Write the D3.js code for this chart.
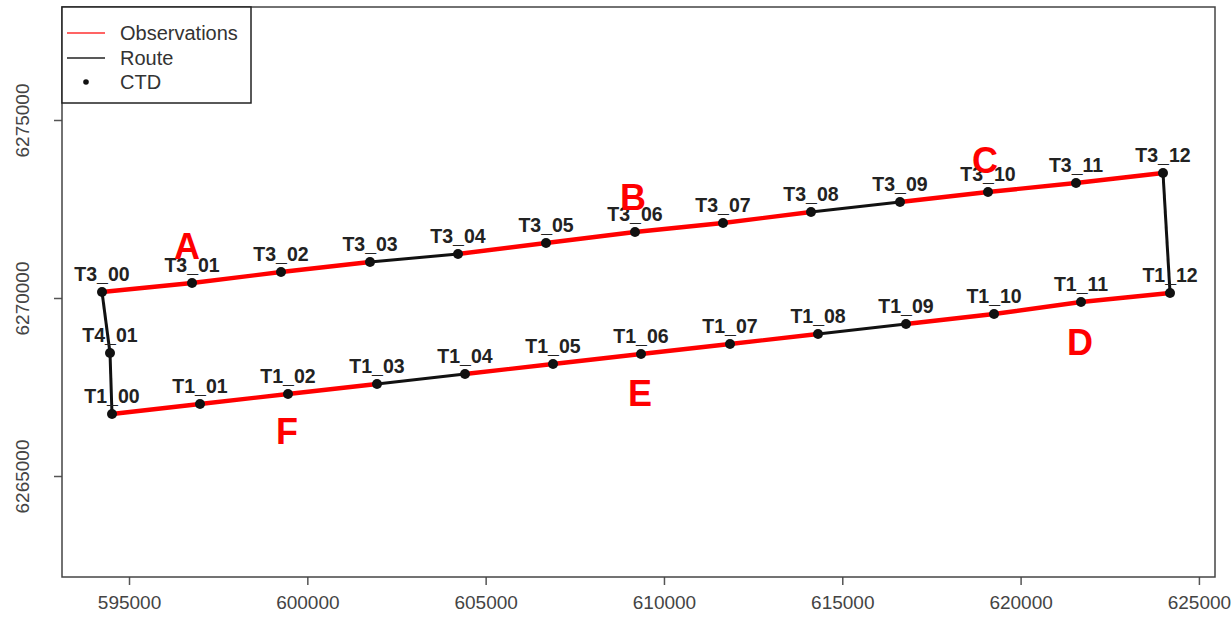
<!DOCTYPE html>
<html><head><meta charset="utf-8">
<script src="https://cdn.jsdelivr.net/npm/d3@7"></script>
<style>body{margin:0;background:#fff;}svg{display:block;}</style>
</head><body>
<svg id="chart" width="1232" height="628"></svg>
<script>
// ---- data (map coordinates, m) ----
const t3Names = ["T3_00","T3_01","T3_02","T3_03","T3_04","T3_05","T3_06","T3_07","T3_08","T3_09","T3_10","T3_11","T3_12"];
const t3X = [594243,596767,599262,601758,604225,606693,609188,611656,614123,616619,619086,621554,623993];
const t3Y = [6270169,6270421,6270730,6271011,6271236,6271545,6271854,6272107,6272416,6272697,6272978,6273230,6273511];
const t1Names = ["T1_00","T1_01","T1_02","T1_03","T1_04","T1_05","T1_06","T1_07","T1_08","T1_09","T1_10","T1_11","T1_12"];
const t1X = [594523,596991,599458,601954,604421,606889,609356,611852,614320,616787,619255,621694,624190];
const t1Y = [6266742,6267022,6267303,6267584,6267865,6268146,6268427,6268708,6268989,6269270,6269551,6269888,6270140];
const t4Names = ["T4_01"];
const t4X = [594467];
const t4Y = [6268455];
// segment i connects station i and i+1 : true = observations (red), false = route only
const t3Obs = [true,true,true,false,true,true,true,true,false,true,true,true];
const t1Obs = [true,true,true,false,true,true,true,true,false,true,true,true];
const sectionNames = ["A","B","C","D","E","F"];
const sectionX = [596626,609132,619002,621666,609328,599430];
const sectionY = [6271433,6272837,6273876,6268736,6267331,6266236];
const xTicks = [595000,600000,605000,610000,615000,620000,625000];
const yTicks = [6265000,6270000,6275000];
const xDomain = [593121,625451];
const yDomain = [6262163,6278174];
const legendLabels = ["Observations","Route","CTD"];

// ---- layout ----
const L = 62, R = 1215, T = 7, B = 577;
const svg = d3.select("#chart");
const x = d3.scaleLinear().domain(xDomain).range([L, R]);
const y = d3.scaleLinear().domain(yDomain).range([B, T]);
const font = "Liberation Sans, Arial, sans-serif";

// axes
const xAxis = d3.axisBottom(x).tickValues(xTicks).tickFormat(d3.format("d")).tickSize(8).tickPadding(11);
const gx = svg.append("g").attr("transform", `translate(0,${B})`).call(xAxis);
gx.select(".domain").remove();
gx.selectAll("line").attr("stroke","#555").attr("stroke-width",1.5);
gx.selectAll("text").attr("font-family",font).attr("font-size",19).attr("fill","#444");

const yAxis = d3.axisLeft(y).tickValues(yTicks).tickFormat(d3.format("d")).tickSize(8).tickPadding(0);
const gy = svg.append("g").attr("transform", `translate(${L},0)`).call(yAxis);
gy.select(".domain").remove();
gy.selectAll("line").attr("stroke","#555").attr("stroke-width",1.5);
gy.selectAll("text").attr("font-family",font).attr("font-size",19).attr("fill","#444")
  .attr("text-anchor","middle").attr("x",0).attr("dy","0.35em")
  .attr("transform","translate(-40,0) rotate(-90)");

// frame
svg.append("rect").attr("x",L).attr("y",T).attr("width",R-L).attr("height",B-T)
  .attr("fill","none").attr("stroke","#444").attr("stroke-width",1.5);

// build point lists
const t3 = t3Names.map((n,i)=>({name:n,x:t3X[i],y:t3Y[i]}));
const t1 = t1Names.map((n,i)=>({name:n,x:t1X[i],y:t1Y[i]}));
const t4 = t4Names.map((n,i)=>({name:n,x:t4X[i],y:t4Y[i]}));

const segs = [];
t3Obs.forEach((o,i)=>segs.push({a:t3[i],b:t3[i+1],obs:o}));
t1Obs.forEach((o,i)=>segs.push({a:t1[i],b:t1[i+1],obs:o}));
// transits (route)
segs.push({a:t3[12],b:t1[12],obs:false});
segs.push({a:t3[0],b:t4[0],obs:false});
segs.push({a:t4[0],b:t1[0],obs:false});

const line = d3.line().x(d=>x(d.x)).y(d=>y(d.y));
svg.append("g").selectAll("path").data(segs.filter(s=>!s.obs)).join("path")
  .attr("d",s=>line([s.a,s.b])).attr("stroke","#111").attr("stroke-width",3).attr("fill","none");
svg.append("g").selectAll("path").data(segs.filter(s=>s.obs)).join("path")
  .attr("d",s=>line([s.a,s.b])).attr("stroke","#ff0000").attr("stroke-width",4.4).attr("fill","none").attr("stroke-linecap","round");

const allPts = t3.concat(t1, t4);
svg.append("g").selectAll("circle").data(allPts).join("circle")
  .attr("cx",d=>x(d.x)).attr("cy",d=>y(d.y)).attr("r",5).attr("fill","#111");

svg.append("g").selectAll("text").data(allPts).join("text")
  .attr("x",d=>x(d.x)).attr("y",d=>y(d.y)-11)
  .attr("text-anchor","middle").attr("font-family",font).attr("font-weight","bold")
  .attr("font-size",19.5).attr("fill","#222").text(d=>d.name);

// section letters
svg.append("g").selectAll("text").data(sectionNames).join("text")
  .attr("x",(d,i)=>x(sectionX[i])).attr("y",(d,i)=>y(sectionY[i]))
  .attr("text-anchor","middle").attr("dominant-baseline","central")
  .attr("font-family",font).attr("font-weight","bold").attr("font-size",36)
  .attr("fill","#ff0000").text(d=>d);

// legend
const lg = svg.append("g");
lg.append("rect").attr("x",L).attr("y",T).attr("width",189).attr("height",96)
  .attr("fill","#fff").attr("stroke","#222").attr("stroke-width",1.5);
const ly = [33,58,82];
lg.append("line").attr("x1",67).attr("x2",105).attr("y1",ly[0]).attr("y2",ly[0]).attr("stroke","#ff3030").attr("stroke-width",1.5);
lg.append("line").attr("x1",67).attr("x2",105).attr("y1",ly[1]).attr("y2",ly[1]).attr("stroke","#222").attr("stroke-width",1.5);
lg.append("circle").attr("cx",86).attr("cy",ly[2]).attr("r",2.8).attr("fill","#111");
lg.selectAll("text.lt").data(legendLabels).join("text").attr("class","lt")
  .attr("x",120).attr("y",(d,i)=>ly[i]).attr("dy","0.35em")
  .attr("font-family",font).attr("font-size",20).attr("fill","#333").text(d=>d);
</script>
</body></html>
